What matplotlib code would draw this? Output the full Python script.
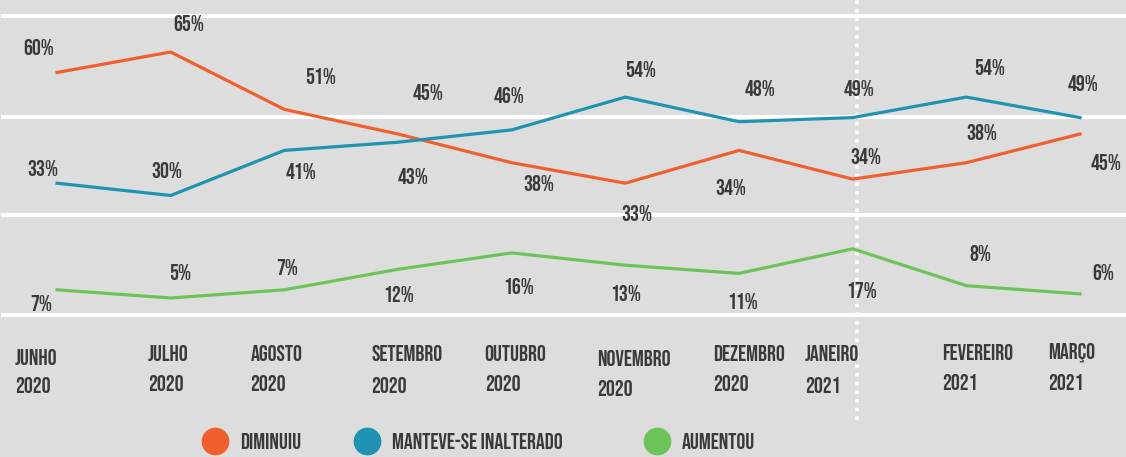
import matplotlib.pyplot as plt
import matplotlib.font_manager as fm
from matplotlib.lines import Line2D

avail = {f.name for f in fm.fontManager.ttflist}
for fam in ["Bebas Neue", "League Gothic", "Oswald", "Sofia Sans Extra Condensed", "DejaVu Sans"]:
    if fam in avail:
        break
plt.rcParams['font.family'] = [fam, 'DejaVu Sans']

months = ["JUNHO", "JULHO", "AGOSTO", "SETEMBRO", "OUTUBRO", "NOVEMBRO",
          "DEZEMBRO", "JANEIRO", "FEVEREIRO", "MARÇO"]
years = ["2020", "2020", "2020", "2020", "2020", "2020", "2020", "2021", "2021", "2021"]

diminuiu = [60, 65, 51, 45, 38, 33, 41, 34, 38, 45]
diminuiu_labels = ["60%", "65%", "51%", "45%", "38%", "33%", "34%", "34%", "38%", "45%"]
manteve = [33, 30, 41, 43, 46, 54, 48, 49, 54, 49]
aumentou = [7, 5, 7, 12, 16, 13, 11, 17, 8, 6]

# label offsets in pixels (dx, dy up)
off_dim = [(-18, 26), (18, 29), (36, 33), (30, 42), (27, -20), (11, -30),
           (-8, -37), (13, 23), (15, 31), (26, -28)]
off_man = [(-14, 15), (-4, 25), (17, -21), (15, -34), (-3, 35), (15, 28),
           (21, 34), (6, 30), (23, 30), (3, 35)]
off_aum = [(-16, -13), (9, 26), (3, 23), (1, -25), (7, -33), (0, -28),
           (4, -28), (9, -41), (14, 33), (23, 22)]
month_dx = [-42, -23, -34, -27, -27, -28, -26, -48, -24, -32]
month_y = [357, 353, 353, 353, 353, 358, 353, 353, 352, 352]
year_y = [385, 383, 383, 385, 383, 388, 383, 385, 382, 382]

c_dim = "#f0602f"
c_man = "#1f93b1"
c_aum = "#6cc35a"
txt = "#3a3a3a"
bg = "#dddddd"

fig = plt.figure(figsize=(11.26, 4.57), dpi=100, facecolor=bg)
ax = fig.add_axes([0, 0, 1, 1])
ax.set_facecolor(bg)
ax.axis("off")

step = 113.67
ax.set_xlim(-57 / step, (1126 - 57) / step)
ax.set_ylim(65 - 405 / 4.1, 65 + 52 / 4.1)

for g in [73.8, 49.2, 25.2, 0.85]:
    ax.axhline(g, xmin=3 / 1126, xmax=1, color="white", lw=3, zorder=1)

ax.axvline((857 - 57) / step, ymin=1 - 420 / 457, ymax=1, color="white",
           lw=2.6, ls=(0, (1, 1.4)), zorder=1)

x = list(range(len(months)))
ax.plot(x, diminuiu, color=c_dim, lw=2.3, zorder=3)
ax.plot(x, manteve, color=c_man, lw=2.3, zorder=3)
ax.plot(x, aumentou, color=c_aum, lw=2.3, zorder=3)

def put_labels(vals, labels, offs):
    for i, (v, s, o) in enumerate(zip(vals, labels, offs)):
        ax.annotate(s, (i, v), xytext=o, textcoords="offset pixels",
                    ha="center", va="center", fontsize=16, color=txt, zorder=4)

put_labels(diminuiu, diminuiu_labels, off_dim)
put_labels(manteve, [f"{v}%" for v in manteve], off_man)
put_labels(aumentou, [f"{v}%" for v in aumentou], off_aum)

for i, (m, yr) in enumerate(zip(months, years)):
    for s, yy in [(m, month_y[i]), (yr, year_y[i])]:
        ax.annotate(s, (i, 1 - yy / 457), xycoords=("data", "axes fraction"),
                    xytext=(month_dx[i], 0), textcoords="offset pixels",
                    ha="left", va="center", fontsize=16, color=txt)

legend_items = [("DIMINUIU", c_dim, 202), ("MANTEVE-SE INALTERADO", c_man, 354),
                ("AUMENTOU", c_aum, 644)]
for name, col, px in legend_items:
    h = Line2D([], [], marker="o", ls="none", color=col, markersize=19)
    lg = fig.legend([h], [name], loc="center left",
                    bbox_to_anchor=(px / 1126, 1 - 441 / 457), frameon=False,
                    handletextpad=0.55, borderaxespad=0, borderpad=0,
                    handlelength=1.15, prop={"size": 16})
    for t in lg.get_texts():
        t.set_color(txt)

fig.savefig("out.png", dpi=100, facecolor=bg)
